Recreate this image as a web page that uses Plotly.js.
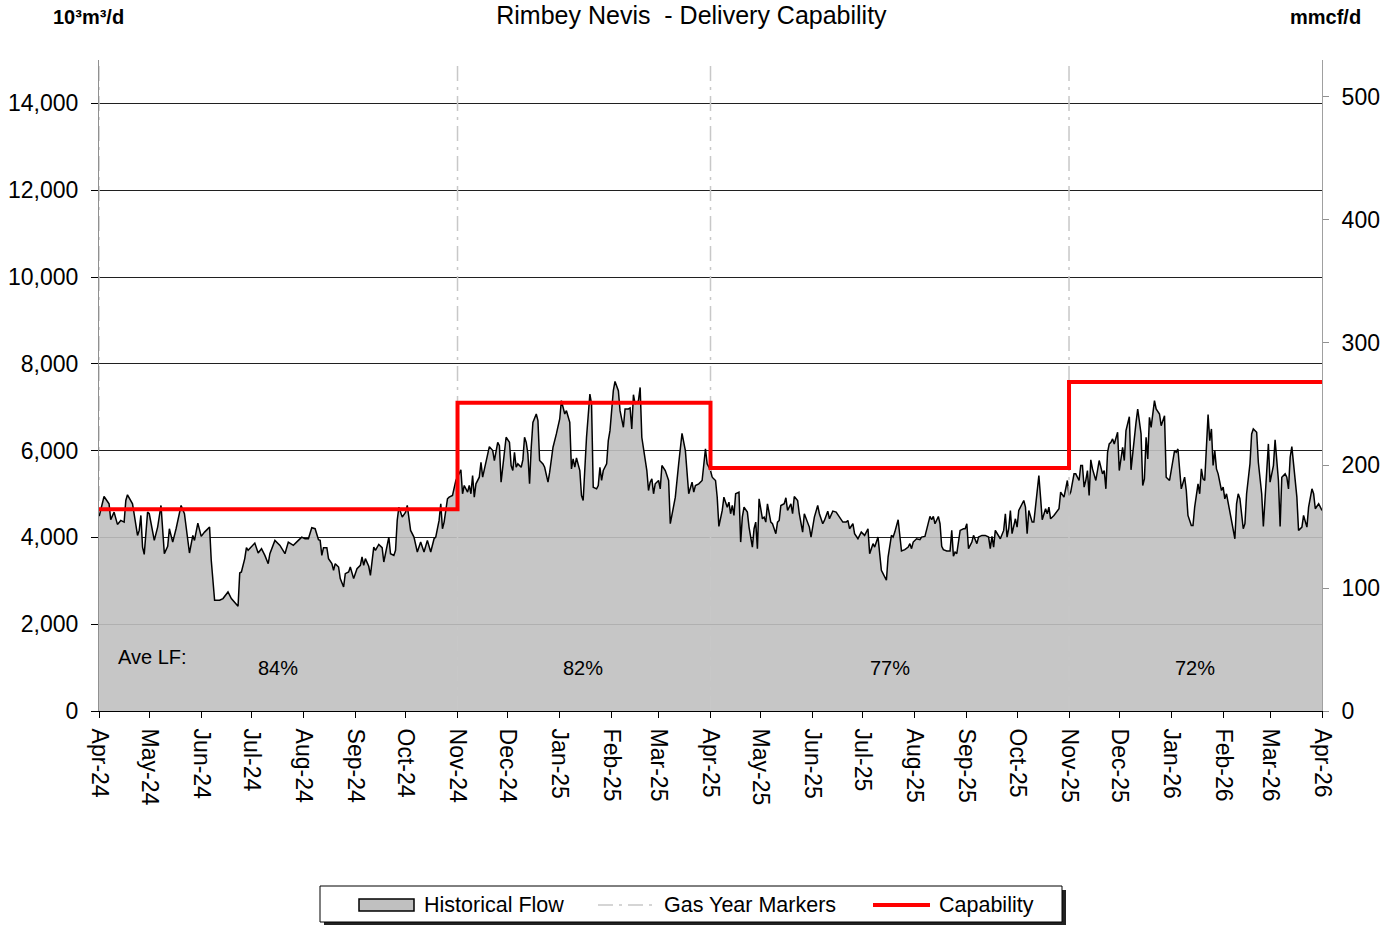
<!DOCTYPE html>
<html>
<head>
<meta charset="utf-8">
<script src="https://cdn.plot.ly/plotly-3.0.1.min.js"></script>
<style>html,body{margin:0;padding:0;background:#fff;}#chart{width:1389px;height:925px;}</style>
</head>
<body>
<div id="chart"></div>
<script>
// ---- DATA ----
// day offsets from 2024-04-01
const flowDays = [0,3,6,7,9,11,13,15,16,17,20,21,23,24,25,26,27,29,30,33,35,37,39,41,42,44,46,49,51,54,56,57,59,61,63,66,67,69,72,74,77,79,81,83,84,85,87,88,89,91,93,95,97,99,101,102,105,108,111,113,116,119,121,123,125,127,129,131,132,133,134,136,137,139,140,141,143,144,146,147,149,150,151,152,154,156,157,158,159,161,162,164,165,167,169,170,172,173,174,176,177,178,179,181,183,184,186,188,190,192,194,196,198,200,201,203,204,205,206,208,209,211,213,216,217,218,220,221,222,223,224,225,227,228,229,231,233,235,236,238,239,240,242,243,245,246,247,248,249,250,252,253,254,255,256,257,258,259,261,262,263,265,266,268,269,271,273,275,276,278,279,281,282,283,284,285,287,288,289,290,291,293,294,295,297,298,299,300,301,303,304,305,307,308,310,311,312,313,314,316,317,318,319,320,322,323,324,326,327,328,329,330,331,332,334,335,336,338,340,341,344,346,347,348,350,351,352,354,355,356,358,360,361,362,363,365,366,368,369,370,372,373,375,376,377,378,379,380,382,383,384,385,387,388,390,391,392,393,394,396,397,398,399,401,402,404,405,406,407,409,410,411,413,414,415,417,418,420,421,423,424,425,427,429,430,432,433,435,436,438,440,442,444,446,447,448,450,451,453,455,457,459,460,462,463,465,467,468,470,471,473,474,475,477,478,479,481,483,484,485,486,488,490,491,493,494,496,497,498,499,501,502,503,504,506,508,509,510,511,512,514,516,517,518,519,521,522,524,525,527,529,531,532,533,534,535,537,538,540,541,542,543,544,545,547,548,549,551,552,553,554,555,557,558,560,561,562,563,565,566,567,568,570,572,573,574,576,578,579,580,582,583,585,586,587,588,589,590,591,592,593,595,596,597,599,600,601,602,603,604,605,606,608,609,611,612,613,615,616,618,619,620,622,623,624,625,626,627,628,630,631,633,634,636,637,639,640,642,643,644,646,647,648,649,650,652,653,654,656,657,658,659,660,662,663,664,665,666,667,668,670,671,672,673,675,676,678,679,680,681,683,684,685,687,688,689,691,692,694,695,697,698,699,701,702,704,705,706,708,709,710,711,712,713,715,716,718,719,721,722,724,725,726,728,729,730];
const flowValues = [4467,4943,4775,4407,4582,4299,4391,4352,4851,4982,4775,4545,4046,4161,4506,3777,3609,4582,4545,3931,4237,4736,3625,3793,4200,3892,4200,4736,4545,3640,4046,3931,4329,4023,4122,4237,3472,2552,2552,2591,2743,2591,2513,2414,3180,3203,3511,3763,3702,3777,3869,3640,3740,3586,3395,3625,3931,3816,3625,3892,3816,3931,4007,3969,3969,4223,4200,3946,3931,3586,3763,3763,3511,3395,3242,3395,3318,3051,2858,3165,3203,3318,3165,3051,3280,3357,3548,3357,3511,3334,3127,3777,3702,3839,3763,3433,3816,4007,3625,3586,3702,4391,4697,4467,4582,4736,4161,4007,3663,3892,3663,3931,3663,3969,4007,4391,4775,4200,4352,4890,4927,4966,5311,5557,5005,5196,5043,5196,5005,5426,4927,5235,5387,5732,5387,5771,6092,6000,5771,6191,6115,5272,5924,6307,6191,5656,5541,5962,5617,5694,5617,5786,6307,6191,5924,5235,6077,6651,6844,6690,5771,5694,5617,5272,5502,6077,6384,6729,7150,6844,6920,6651,5579,5809,5617,5832,5541,4966,4851,5541,6307,7303,7074,5157,5119,5196,5617,5311,5541,5694,6230,6460,7380,7594,7380,6920,6690,6537,6959,6959,6982,6499,7288,7074,7150,7456,6307,5771,5541,5081,5272,5349,5005,5235,5311,5119,5656,5541,5311,4315,4927,5694,6077,6399,6000,5464,5005,5272,5043,5196,5235,5311,5617,6038,5694,5541,5387,5311,4927,4253,4621,4927,4697,4812,4545,4736,4506,5005,5043,3892,4467,4697,4582,4237,3777,4200,4352,3740,4890,4429,4467,4352,4775,4352,4315,4085,4352,4391,4736,4775,4913,4621,4775,4545,4943,4851,4545,4122,4545,4352,4237,4007,4467,4736,4545,4315,4391,4605,4429,4605,4582,4467,4352,4352,4391,4200,4315,4085,3969,4122,4046,4200,3625,3855,3777,4007,3242,3165,3012,3548,4046,4007,4122,4407,4085,3686,3717,3777,3855,3740,3892,3969,3946,4007,4023,4161,4483,4407,4483,4315,4483,4315,3793,3717,3686,3686,4161,3564,3663,3625,4161,4200,4200,4315,3740,3892,4046,3855,4007,4046,4046,4007,3740,4023,3777,4161,4046,3969,4161,4545,4007,4200,4621,4085,4429,4237,4621,4775,4851,4697,4085,4621,4352,4352,5081,5426,4927,4407,4660,4545,4697,4429,4506,4621,4660,5043,4927,5311,4966,5043,5464,5464,5311,5656,5656,5157,5311,5541,4966,5786,5579,5311,5579,5771,5464,5541,5119,5962,6154,6191,6269,6154,6422,5541,6077,5771,6460,6782,5557,6384,6651,6959,6384,5196,5349,6307,5809,6767,6537,7150,6959,6844,6575,6805,5387,5311,5579,6000,5962,6038,5119,5235,5387,5081,4506,4276,4276,4697,5235,5005,5579,5349,5311,6828,6230,6499,5656,6000,5579,5464,5081,5157,4890,5005,4582,4391,3969,4775,5005,4890,4200,4315,5005,5694,6384,6499,6422,5732,5005,4253,5387,6154,5272,5656,6246,5311,4253,5387,5464,5387,5119,5847,6092,5694,4927,4161,4237,4506,4237,4697,5119,5005,4660,4775,4697,4621];
// Capability steps (10^3 m3/d)
const capabilityDates = ['2024-04-01','2024-11-01','2025-04-01','2025-11-01','2026-04-01'];
const capabilityValues = [4650,7100,5600,7580,7580];
// Gas year markers
const gasYearMarkers = ['2024-04-01','2024-11-01','2025-04-01','2025-11-01'];
// Average load factor per period
const loadFactorLabels = ['84%','82%','77%','72%'];
const legendLabels = ['Historical Flow','Gas Year Markers','Capability'];
const conversion = 28.3; // 10^3 m3 per mmcf
const yMax = 15000;

// ---- BUILD ----
const t0 = Date.UTC(2024,3,1);
function dayToDate(d){ return new Date(t0 + d*86400000).toISOString().slice(0,10); }
const flowDates = flowDays.map(dayToDate);

const mx = [], my = [];
gasYearMarkers.forEach(d => { mx.push(d, d, null); my.push(0, yMax, null); });

const FONT = '"Liberation Sans", Arial, sans-serif';
const FILL = 'rgba(192,192,192,0.9)';
const MARK = '#c8c8c8';
const RED = '#ff0000';

const traces = [
  {x: flowDates, y: flowValues, type:'scatter', mode:'lines', name:legendLabels[0],
   line:{color:'#000', width:1.5}, fill:'tozeroy', fillcolor:FILL},
  {x: mx, y: my, type:'scatter', mode:'lines', name:legendLabels[1],
   line:{color:MARK, width:1.5, dash:'longdashdot'}, connectgaps:false},
  {x: capabilityDates, y: capabilityValues, type:'scatter', mode:'lines', name:legendLabels[2],
   line:{color:RED, width:4, shape:'hv'}},
  {x: [], y: [], yaxis:'y2', type:'scatter', showlegend:false, hoverinfo:'skip'}
];

// pixel -> paper helpers (plot area: left 99, right 1322, top 60, bottom 711)
const PX = p => (p-99)/1223;
const PY = p => (711-p)/651;

const annotations = [];
for (let i=0;i<loadFactorLabels.length;i++){
  const a = Date.parse(capabilityDates[i]), b = Date.parse(capabilityDates[i+1]);
  annotations.push({x: new Date((a+b)/2).toISOString().slice(0,10), y: 1000, xref:'x', yref:'y',
    text: loadFactorLabels[i], showarrow:false, font:{family:FONT, size:20, color:'#000'}});
}
annotations.push({x:PX(116), y:1240, xref:'paper', yref:'y', xanchor:'left', text:'Ave LF:', showarrow:false,
  font:{family:FONT, size:20, color:'#000'}});
annotations.push({x:PX(88), y:PY(17), xref:'paper', yref:'paper', xanchor:'center', yanchor:'middle',
  text:'<b>10³m³/d</b>', showarrow:false, font:{family:FONT, size:20, color:'#000'}});
annotations.push({x:PX(1325), y:PY(17), xref:'paper', yref:'paper', xanchor:'center', yanchor:'middle',
  text:'<b>mmcf/d</b>', showarrow:false, font:{family:FONT, size:20, color:'#000'}});

// custom legend
const legY = 905;
const legTextX = [422, 662, 937];
legendLabels.forEach((t,i) => annotations.push({x:PX(legTextX[i]), y:PY(legY), xref:'paper', yref:'paper',
  xanchor:'left', yanchor:'middle', text:t, showarrow:false, font:{family:FONT, size:21.5, color:'#000'}}));

const shapes = [
  {type:'rect', xref:'paper', yref:'paper', x0:PX(324), x1:PX(1066), y0:PY(890), y1:PY(926), fillcolor:'#222', line:{width:0}},
  {type:'rect', xref:'paper', yref:'paper', x0:PX(320), x1:PX(1062), y0:PY(886), y1:PY(922), fillcolor:'#fff', line:{color:'#000', width:1}},
  {type:'rect', xref:'paper', yref:'paper', x0:PX(359), x1:PX(414), y0:PY(899), y1:PY(911), fillcolor:'#c0c0c0', line:{color:'#000', width:1.5}},
  {type:'line', xref:'paper', yref:'paper', x0:PX(598), x1:PX(655), y0:PY(legY), y1:PY(legY), line:{color:MARK, width:1.5, dash:'longdashdot'}},
  {type:'line', xref:'paper', yref:'paper', x0:PX(873), x1:PX(930), y0:PY(legY), y1:PY(legY), line:{color:RED, width:4}}
];

const layout = {
  width:1389, height:925,
  margin:{l:99, r:67, t:60, b:214, autoexpand:false},
  paper_bgcolor:'#fff', plot_bgcolor:'#fff',
  font:{family:FONT, color:'#000'},
  title:{text:'Rimbey Nevis  - Delivery Capability', x:0.4978, xanchor:'center', y:1-15/925, yanchor:'middle',
    font:{family:FONT, size:25, color:'#000'}},
  xaxis:{type:'date', range:['2024-04-01','2026-04-01'], tick0:'2024-04-01', dtick:'M1', tickformat:'%b-%y',
    tickangle:90, tickfont:{family:FONT, size:23, color:'#000'}, ticks:'outside', ticklen:6, tickcolor:'#000',
    showgrid:false, showline:true, linecolor:'#000', linewidth:1, zeroline:false, ticklabelstandoff:6},
  yaxis:{range:[0,yMax], dtick:2000, tickformat:',d', tickfont:{family:FONT, size:23, color:'#000'},
    ticks:'outside', ticklen:7, tickcolor:'#000', showgrid:true, gridcolor:'#202020', gridwidth:1,
    showline:true, linecolor:'#909090', zeroline:false, ticklabelstandoff:8},
  yaxis2:{overlaying:'y', side:'right', range:[0, yMax/conversion], dtick:100,
    tickfont:{family:FONT, size:23, color:'#000'}, ticks:'outside', ticklen:6, tickcolor:'#909090',
    showgrid:false, showline:true, linecolor:'#a0a0a0', zeroline:false, ticklabelstandoff:8},
  showlegend:false,
  shapes: shapes,
  annotations: annotations
};

Plotly.newPlot('chart', traces, layout, {displayModeBar:false, staticPlot:true});
</script>
</body>
</html>
